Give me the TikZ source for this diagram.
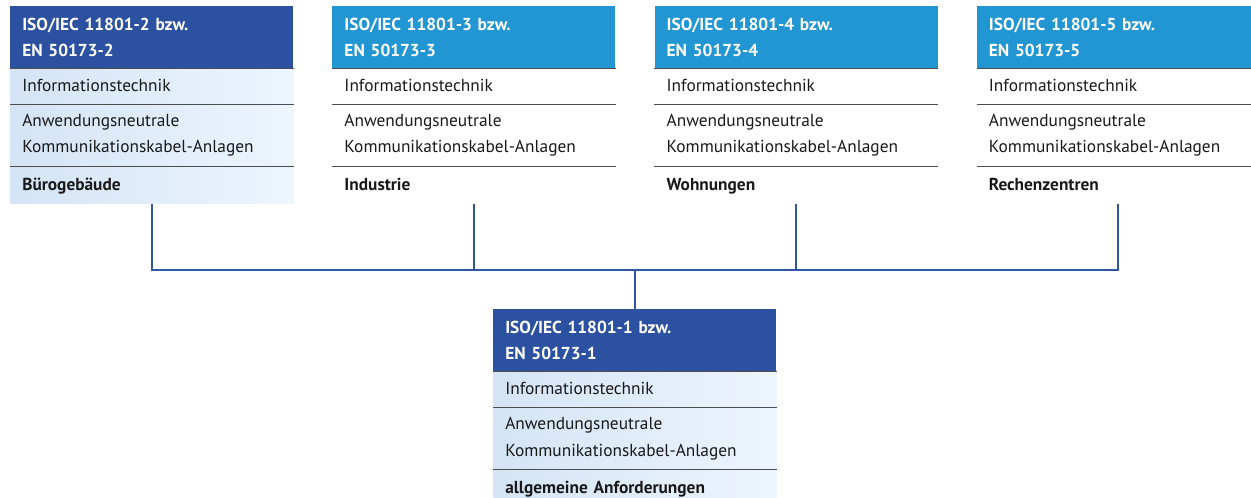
\documentclass[tikz,border=0pt]{standalone}
\usepackage{fontspec}
\setmainfont{PT Sans}
\usetikzlibrary{positioning,calc}
\definecolor{normdark}{HTML}{2C51A0}
\definecolor{normlight}{HTML}{2196D3}
\definecolor{normline}{HTML}{2E56A5}
\definecolor{rowleft}{HTML}{D4E4F6}
\definecolor{rowright}{HTML}{EDF5FD}
\definecolor{sepgray}{HTML}{4D4D4D}

\begin{document}
\begin{tikzpicture}[x=0.75pt, y=-0.75pt,
    head/.style={text=white, font=\fontsize{13}{20}\selectfont\bfseries,
                 text width=194.25pt, inner xsep=9pt, inner ysep=0pt,
                 minimum height=46.5pt, align=left},
    cell/.style={text=black!90, font=\fontsize{13}{20}\selectfont,
                 text width=194.25pt, inner xsep=9pt, inner ysep=0pt,
                 align=left},
    info/.style={cell, minimum height=26.25pt, text height=10pt, text depth=2pt},
    anw/.style={cell, minimum height=46.5pt},
    app/.style={cell, minimum height=27.75pt, text height=10pt, text depth=2pt,
                font=\fontsize{13}{20}\selectfont\bfseries},
    tinted/.style={left color=rowleft, right color=rowright},
    sep/.style={draw=sepgray, line width=0.8pt},
    conn/.style={draw=normline, line width=1.6pt}
]
  \useasboundingbox (0,0) rectangle (1251,497);

  % Kopfzeilen oben
  \node[head, fill=normdark, anchor=north west] (h2) at (10,6) {ISO/IEC 11801-2 bzw.\\ EN 50173-2};
  \node[head, fill=normlight, right=29pt of h2] (h3) {ISO/IEC 11801-3 bzw.\\ EN 50173-3};
  \node[head, fill=normlight, right=29pt of h3] (h4) {ISO/IEC 11801-4 bzw.\\ EN 50173-4};
  \node[head, fill=normlight, right=29pt of h4] (h5) {ISO/IEC 11801-5 bzw.\\ EN 50173-5};

  % Zeilen
  \node[info, tinted, below=0pt of h2] (info2) {Informationstechnik};
  \node[anw, tinted, below=0pt of info2] (anw2) {Anwendungsneutrale\\ Kommunikationskabel-Anlagen};
  \node[app, tinted, below=0pt of anw2] (app2) {Bürogebäude};

  \node[info, below=0pt of h3] (info3) {Informationstechnik};
  \node[anw, below=0pt of info3] (anw3) {Anwendungsneutrale\\ Kommunikationskabel-Anlagen};
  \node[app, below=0pt of anw3] (app3) {Industrie};

  \node[info, below=0pt of h4] (info4) {Informationstechnik};
  \node[anw, below=0pt of info4] (anw4) {Anwendungsneutrale\\ Kommunikationskabel-Anlagen};
  \node[app, below=0pt of anw4] (app4) {Wohnungen};

  \node[info, below=0pt of h5] (info5) {Informationstechnik};
  \node[anw, below=0pt of info5] (anw5) {Anwendungsneutrale\\ Kommunikationskabel-Anlagen};
  \node[app, below=0pt of anw5] (app5) {Rechenzentren};

  % Grundnorm unten
  \node[head, fill=normdark, anchor=north west] (h1) at (493,309) {ISO/IEC 11801-1 bzw.\\ EN 50173-1};
  \node[info, tinted, below=0pt of h1] (info1) {Informationstechnik};
  \node[anw, tinted, below=0pt of info1] (anw1) {Anwendungsneutrale\\ Kommunikationskabel-Anlagen};
  \node[app, tinted, below=0pt of anw1] (app1) {allgemeine Anforderungen};

  % Trennlinien
  \foreach \n in {1,2,3,4,5}{
    \draw[sep] (h\n.south west) -- (h\n.south east);
    \draw[sep] (info\n.south west) -- (info\n.south east);
    \draw[sep] (anw\n.south west) -- (anw\n.south east);
  }

  % Verbindungen
  \coordinate (bus) at ($(h1.north)+(0,-39)$);
  \draw[conn] (app2.south) |- (bus) -| (app5.south);
  \draw[conn] (app3.south) -- (app3.south |- bus);
  \draw[conn] (app4.south) -- (app4.south |- bus);
  \draw[conn] (bus) -- (h1.north);
\end{tikzpicture}
\end{document}
